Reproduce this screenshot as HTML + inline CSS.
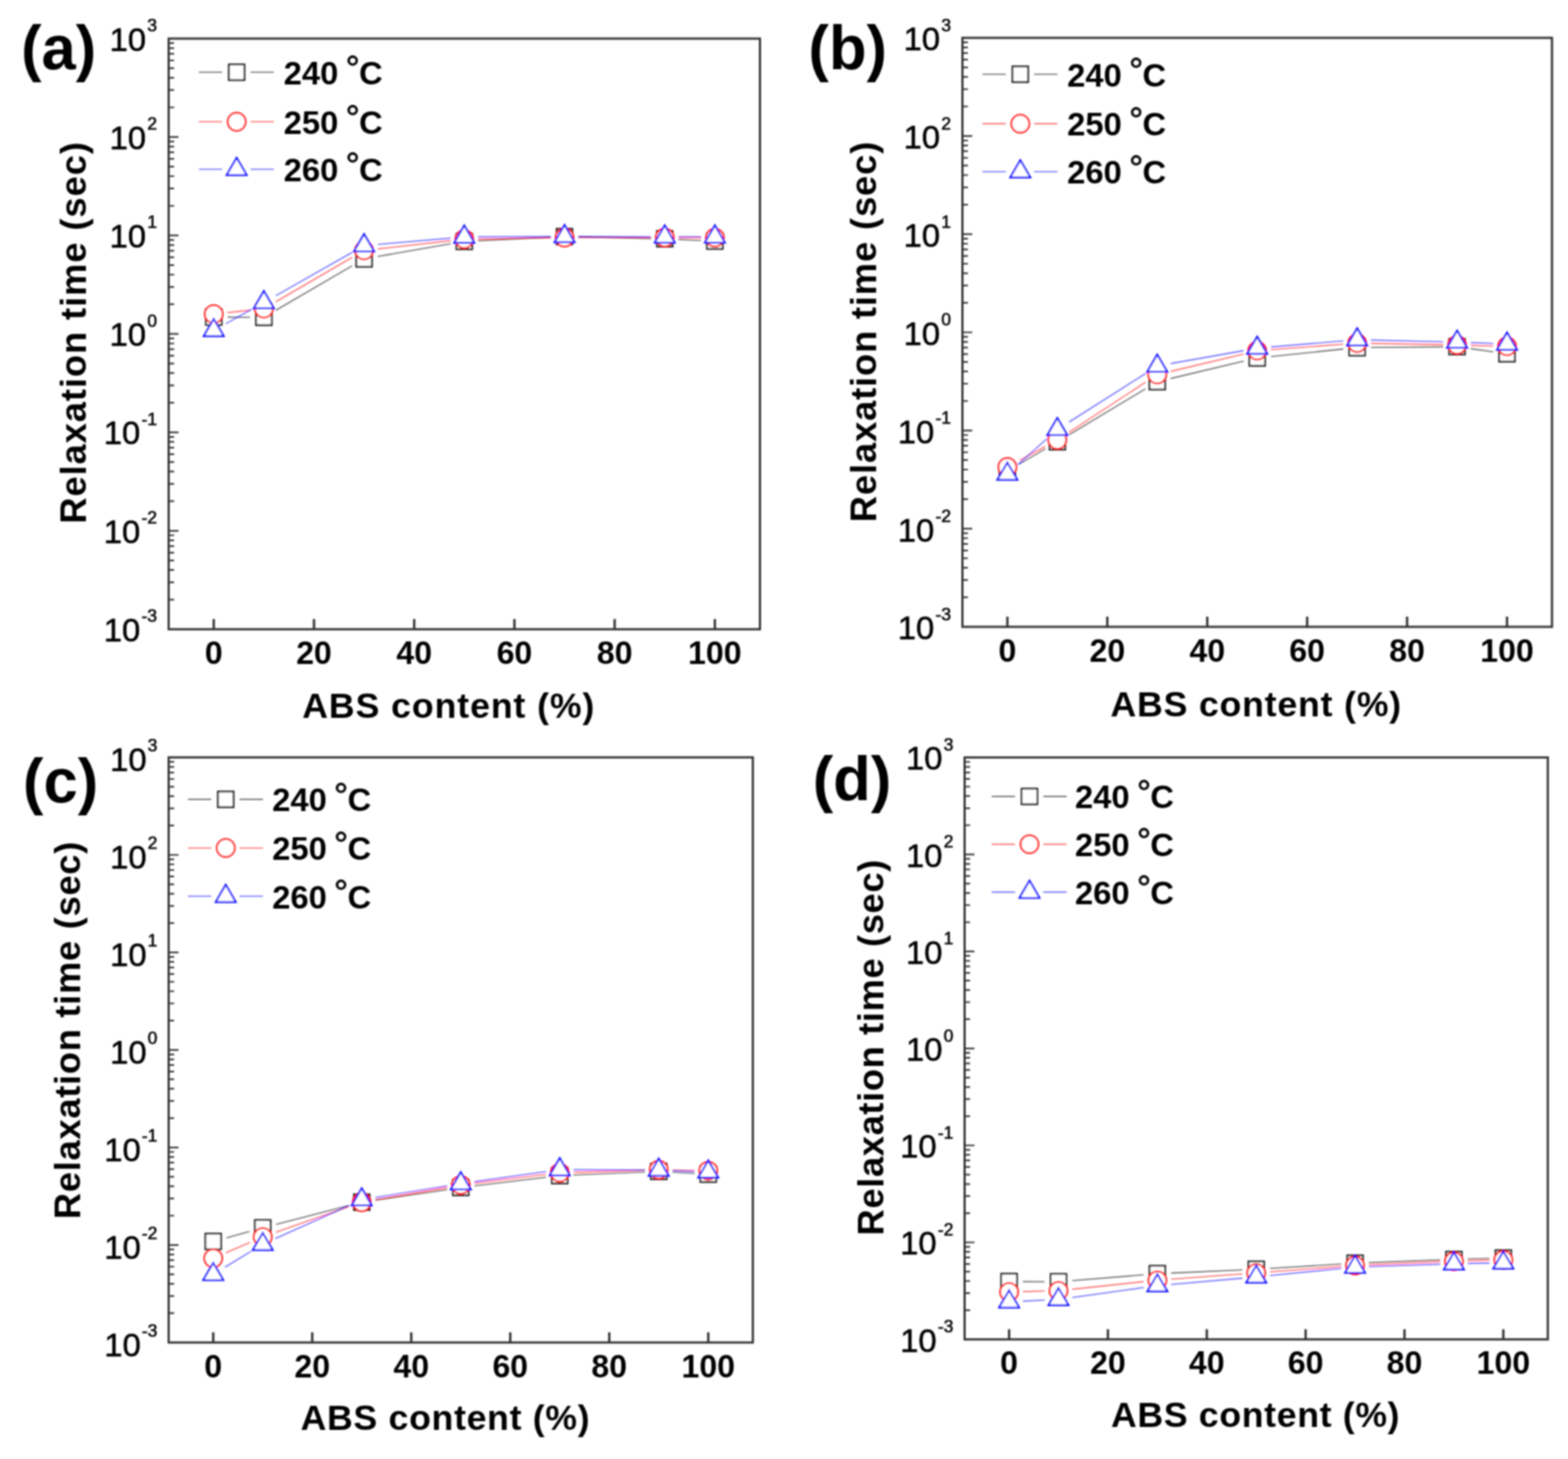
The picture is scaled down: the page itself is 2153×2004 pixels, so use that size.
<!DOCTYPE html>
<html><head><meta charset="utf-8"><title>Relaxation time vs ABS content</title><style>
html,body{margin:0;padding:0;background:#fff;}
svg{display:block;}
text{font-family:"Liberation Sans", Arial, sans-serif;fill:#000;}
</style></head><body>
<svg width="2153" height="2004" viewBox="0 0 2153 2004">
<defs><filter id="soft" x="0" y="0" width="2153" height="2004" filterUnits="userSpaceOnUse"><feGaussianBlur stdDeviation="0.8"/></filter></defs>
<rect width="2153" height="2004" fill="#fff"/>
<g filter="url(#soft)">
<g id="panel-a">
<path d="M231.60 823.60H239.10M231.60 799.79H239.10M231.60 782.89H239.10M231.60 769.79H239.10M231.60 759.08H239.10M231.60 750.03H239.10M231.60 742.19H239.10M231.60 735.27H239.10M231.60 729.08H245.10M231.60 688.38H239.10M231.60 664.57H239.10M231.60 647.67H239.10M231.60 634.57H239.10M231.60 623.86H239.10M231.60 614.81H239.10M231.60 606.97H239.10M231.60 600.05H239.10M231.60 593.87H245.10M231.60 553.16H239.10M231.60 529.35H239.10M231.60 512.46H239.10M231.60 499.35H239.10M231.60 488.65H239.10M231.60 479.60H239.10M231.60 471.75H239.10M231.60 464.84H239.10M231.60 458.65H245.10M231.60 417.95H239.10M231.60 394.14H239.10M231.60 377.24H239.10M231.60 364.14H239.10M231.60 353.43H239.10M231.60 344.38H239.10M231.60 336.54H239.10M231.60 329.62H239.10M231.60 323.43H245.10M231.60 282.73H239.10M231.60 258.92H239.10M231.60 242.02H239.10M231.60 228.92H239.10M231.60 218.21H239.10M231.60 209.16H239.10M231.60 201.32H239.10M231.60 194.40H239.10M231.60 188.22H245.10M231.60 147.51H239.10M231.60 123.70H239.10M231.60 106.81H239.10M231.60 93.70H239.10M231.60 83.00H239.10M231.60 73.95H239.10M231.60 66.10H239.10M231.60 59.19H239.10" stroke="#333" stroke-width="2.2" fill="none"/>
<path d="M293.52 864.30V850.30M431.13 864.30V850.30M568.74 864.30V850.30M706.36 864.30V850.30M843.97 864.30V850.30M981.58 864.30V850.30" stroke="#333" stroke-width="3.2" fill="none"/>
<rect x="231.60" y="53.00" width="811.90" height="811.30" fill="none" stroke="#333" stroke-width="3"/>
<text x="215.50" y="880.80" text-anchor="end" font-size="45" stroke="#000" stroke-width="0.7">10<tspan dx="1.6" dy="-26.5" font-size="24">-3</tspan></text>
<text x="215.50" y="745.58" text-anchor="end" font-size="45" stroke="#000" stroke-width="0.7">10<tspan dx="1.6" dy="-26.5" font-size="24">-2</tspan></text>
<text x="215.50" y="610.37" text-anchor="end" font-size="45" stroke="#000" stroke-width="0.7">10<tspan dx="1.6" dy="-26.5" font-size="24">-1</tspan></text>
<text x="215.50" y="475.15" text-anchor="end" font-size="45" stroke="#000" stroke-width="0.7">10<tspan dx="1.6" dy="-26.5" font-size="24">0</tspan></text>
<text x="215.50" y="339.93" text-anchor="end" font-size="45" stroke="#000" stroke-width="0.7">10<tspan dx="1.6" dy="-26.5" font-size="24">1</tspan></text>
<text x="215.50" y="204.72" text-anchor="end" font-size="45" stroke="#000" stroke-width="0.7">10<tspan dx="1.6" dy="-26.5" font-size="24">2</tspan></text>
<text x="215.50" y="69.50" text-anchor="end" font-size="45" stroke="#000" stroke-width="0.7">10<tspan dx="1.6" dy="-26.5" font-size="24">3</tspan></text>
<text x="293.52" y="911.70" text-anchor="middle" font-size="44" font-weight="bold">0</text>
<text x="431.13" y="911.70" text-anchor="middle" font-size="44" font-weight="bold">20</text>
<text x="568.74" y="911.70" text-anchor="middle" font-size="44" font-weight="bold">40</text>
<text x="706.36" y="911.70" text-anchor="middle" font-size="44" font-weight="bold">60</text>
<text x="843.97" y="911.70" text-anchor="middle" font-size="44" font-weight="bold">80</text>
<text x="981.58" y="911.70" text-anchor="middle" font-size="44" font-weight="bold">100</text>
<text x="615.60" y="986.40" text-anchor="middle" font-size="49" font-weight="bold" textLength="401.2" lengthAdjust="spacing">ABS content (%)</text>
<text transform="translate(118.00 457.25) rotate(-90)" text-anchor="middle" font-size="50" font-weight="bold" textLength="524.1" lengthAdjust="spacing">Relaxation time (sec)</text>
<text x="28.90" y="95.40" font-size="84.5" font-weight="bold">(a)</text>
<path d="M273.0 99.2H305.0M344.0 99.2H376.0" stroke="#000000" stroke-opacity="0.6" stroke-width="1.6"/>
<rect x="314.2" y="88.5" width="21.5" height="21.5" fill="#fff" stroke="#222222" stroke-width="2.5"/>
<text y="115.7" font-size="45" font-weight="bold"><tspan x="389.5">240</tspan><tspan x="474.4" dy="-5.6" font-size="49" font-weight="normal" stroke="#000" stroke-width="0.8">&#176;</tspan><tspan x="493.0" dy="5.6">C</tspan></text>
<path d="M273.0 167.3H305.0M344.0 167.3H376.0" stroke="#ff0000" stroke-opacity="0.6" stroke-width="1.6"/>
<circle cx="325.0" cy="167.3" r="12.2" fill="#fff" stroke="#ff1010" stroke-width="2.5"/>
<text y="183.8" font-size="45" font-weight="bold"><tspan x="389.5">250</tspan><tspan x="474.4" dy="-5.6" font-size="49" font-weight="normal" stroke="#000" stroke-width="0.8">&#176;</tspan><tspan x="493.0" dy="5.6">C</tspan></text>
<path d="M273.0 232.5H305.0M344.0 232.5H376.0" stroke="#0000ff" stroke-opacity="0.6" stroke-width="1.6"/>
<path d="M325.0 216.8L338.7 240.4H311.3Z" fill="#fff" stroke="#1010ff" stroke-width="2.5" stroke-linejoin="miter"/>
<text y="249.0" font-size="45" font-weight="bold"><tspan x="389.5">260</tspan><tspan x="474.4" dy="-5.6" font-size="49" font-weight="normal" stroke="#000" stroke-width="0.8">&#176;</tspan><tspan x="493.0" dy="5.6">C</tspan></text>
<path d="M312.5 435.6L343.3 435.8M378.7 426.3L483.5 365.1M518.7 352.2L618.8 334.8M656.5 330.6L756.2 325.9M794.2 325.4L893.8 327.6M931.7 328.9L962.6 330.3" stroke="#000000" stroke-opacity="0.6" stroke-width="1.6" fill="none"/>
<rect x="282.8" y="424.8" width="21.5" height="21.5" fill="#fff" stroke="#222222" stroke-width="2.5"/>
<rect x="351.6" y="425.1" width="21.5" height="21.5" fill="#fff" stroke="#222222" stroke-width="2.5"/>
<rect x="489.2" y="344.8" width="21.5" height="21.5" fill="#fff" stroke="#222222" stroke-width="2.5"/>
<rect x="626.8" y="320.8" width="21.5" height="21.5" fill="#fff" stroke="#222222" stroke-width="2.5"/>
<rect x="764.4" y="314.2" width="21.5" height="21.5" fill="#fff" stroke="#222222" stroke-width="2.5"/>
<rect x="902.0" y="317.2" width="21.5" height="21.5" fill="#fff" stroke="#222222" stroke-width="2.5"/>
<rect x="970.8" y="320.4" width="21.5" height="21.5" fill="#fff" stroke="#222222" stroke-width="2.5"/>
<path d="M312.4 429.4L343.4 426.1M378.8 414.5L483.5 353.5M518.8 341.9L618.7 330.6M656.5 328.2L756.2 326.6M794.2 326.3L893.8 326.2M931.8 326.3L962.6 326.4" stroke="#ff0000" stroke-opacity="0.6" stroke-width="1.6" fill="none"/>
<circle cx="293.5" cy="431.5" r="12.2" fill="#fff" stroke="#ff1010" stroke-width="2.5"/>
<circle cx="362.3" cy="424.0" r="12.2" fill="#fff" stroke="#ff1010" stroke-width="2.5"/>
<circle cx="499.9" cy="344.0" r="12.2" fill="#fff" stroke="#ff1010" stroke-width="2.5"/>
<circle cx="637.5" cy="328.5" r="12.2" fill="#fff" stroke="#ff1010" stroke-width="2.5"/>
<circle cx="775.2" cy="326.3" r="12.2" fill="#fff" stroke="#ff1010" stroke-width="2.5"/>
<circle cx="912.8" cy="326.2" r="12.2" fill="#fff" stroke="#ff1010" stroke-width="2.5"/>
<circle cx="981.6" cy="326.5" r="12.2" fill="#fff" stroke="#ff1010" stroke-width="2.5"/>
<path d="M310.1 444.6L345.7 424.7M378.8 406.1L483.4 346.7M518.9 335.7L618.6 327.1M656.5 325.4L756.2 324.9M794.2 324.9L893.8 325.2M931.8 325.3L962.6 325.3" stroke="#0000ff" stroke-opacity="0.6" stroke-width="1.6" fill="none"/>
<path d="M293.5 438.1L307.2 461.7H279.8Z" fill="#fff" stroke="#1010ff" stroke-width="2.5" stroke-linejoin="miter"/>
<path d="M362.3 399.8L376.0 423.4H348.6Z" fill="#fff" stroke="#1010ff" stroke-width="2.5" stroke-linejoin="miter"/>
<path d="M499.9 321.6L513.6 345.2H486.2Z" fill="#fff" stroke="#1010ff" stroke-width="2.5" stroke-linejoin="miter"/>
<path d="M637.5 309.8L651.2 333.4H623.8Z" fill="#fff" stroke="#1010ff" stroke-width="2.5" stroke-linejoin="miter"/>
<path d="M775.2 309.1L788.9 332.7H761.5Z" fill="#fff" stroke="#1010ff" stroke-width="2.5" stroke-linejoin="miter"/>
<path d="M912.8 309.6L926.5 333.2H899.1Z" fill="#fff" stroke="#1010ff" stroke-width="2.5" stroke-linejoin="miter"/>
<path d="M981.6 309.6L995.3 333.2H967.9Z" fill="#fff" stroke="#1010ff" stroke-width="2.5" stroke-linejoin="miter"/>
</g>
<g id="panel-b">
<path d="M1321.50 820.41H1329.00M1321.50 796.67H1329.00M1321.50 779.82H1329.00M1321.50 766.76H1329.00M1321.50 756.08H1329.00M1321.50 747.05H1329.00M1321.50 739.23H1329.00M1321.50 732.34H1329.00M1321.50 726.17H1335.00M1321.50 685.58H1329.00M1321.50 661.83H1329.00M1321.50 644.99H1329.00M1321.50 631.92H1329.00M1321.50 621.25H1329.00M1321.50 612.22H1329.00M1321.50 604.40H1329.00M1321.50 597.50H1329.00M1321.50 591.33H1335.00M1321.50 550.74H1329.00M1321.50 527.00H1329.00M1321.50 510.16H1329.00M1321.50 497.09H1329.00M1321.50 486.41H1329.00M1321.50 477.39H1329.00M1321.50 469.57H1329.00M1321.50 462.67H1329.00M1321.50 456.50H1335.00M1321.50 415.91H1329.00M1321.50 392.17H1329.00M1321.50 375.32H1329.00M1321.50 362.26H1329.00M1321.50 351.58H1329.00M1321.50 342.55H1329.00M1321.50 334.73H1329.00M1321.50 327.84H1329.00M1321.50 321.67H1335.00M1321.50 281.08H1329.00M1321.50 257.33H1329.00M1321.50 240.49H1329.00M1321.50 227.42H1329.00M1321.50 216.75H1329.00M1321.50 207.72H1329.00M1321.50 199.90H1329.00M1321.50 193.00H1329.00M1321.50 186.83H1335.00M1321.50 146.24H1329.00M1321.50 122.50H1329.00M1321.50 105.66H1329.00M1321.50 92.59H1329.00M1321.50 81.91H1329.00M1321.50 72.89H1329.00M1321.50 65.07H1329.00M1321.50 58.17H1329.00" stroke="#333" stroke-width="2.2" fill="none"/>
<path d="M1383.24 861.00V847.00M1520.44 861.00V847.00M1657.65 861.00V847.00M1794.85 861.00V847.00M1932.06 861.00V847.00M2069.26 861.00V847.00" stroke="#333" stroke-width="3.2" fill="none"/>
<rect x="1321.50" y="52.00" width="809.50" height="809.00" fill="none" stroke="#333" stroke-width="3"/>
<text x="1305.80" y="878.40" text-anchor="end" font-size="45" stroke="#000" stroke-width="0.7">10<tspan dx="1.6" dy="-26.5" font-size="24">-3</tspan></text>
<text x="1305.80" y="743.57" text-anchor="end" font-size="45" stroke="#000" stroke-width="0.7">10<tspan dx="1.6" dy="-26.5" font-size="24">-2</tspan></text>
<text x="1305.80" y="608.73" text-anchor="end" font-size="45" stroke="#000" stroke-width="0.7">10<tspan dx="1.6" dy="-26.5" font-size="24">-1</tspan></text>
<text x="1305.80" y="473.90" text-anchor="end" font-size="45" stroke="#000" stroke-width="0.7">10<tspan dx="1.6" dy="-26.5" font-size="24">0</tspan></text>
<text x="1305.80" y="339.07" text-anchor="end" font-size="45" stroke="#000" stroke-width="0.7">10<tspan dx="1.6" dy="-26.5" font-size="24">1</tspan></text>
<text x="1305.80" y="204.23" text-anchor="end" font-size="45" stroke="#000" stroke-width="0.7">10<tspan dx="1.6" dy="-26.5" font-size="24">2</tspan></text>
<text x="1305.80" y="69.40" text-anchor="end" font-size="45" stroke="#000" stroke-width="0.7">10<tspan dx="1.6" dy="-26.5" font-size="24">3</tspan></text>
<text x="1383.24" y="908.90" text-anchor="middle" font-size="44" font-weight="bold">0</text>
<text x="1520.44" y="908.90" text-anchor="middle" font-size="44" font-weight="bold">20</text>
<text x="1657.65" y="908.90" text-anchor="middle" font-size="44" font-weight="bold">40</text>
<text x="1794.85" y="908.90" text-anchor="middle" font-size="44" font-weight="bold">60</text>
<text x="1932.06" y="908.90" text-anchor="middle" font-size="44" font-weight="bold">80</text>
<text x="2069.26" y="908.90" text-anchor="middle" font-size="44" font-weight="bold">100</text>
<text x="1724.30" y="983.70" text-anchor="middle" font-size="49" font-weight="bold" textLength="399.2" lengthAdjust="spacing">ABS content (%)</text>
<text transform="translate(1203.00 455.95) rotate(-90)" text-anchor="middle" font-size="50" font-weight="bold" textLength="522.5" lengthAdjust="spacing">Relaxation time (sec)</text>
<text x="1110.10" y="95.20" font-size="84.5" font-weight="bold">(b)</text>
<path d="M1349.0 102.0H1381.0M1420.0 102.0H1452.0" stroke="#000000" stroke-opacity="0.6" stroke-width="1.6"/>
<rect x="1390.2" y="91.2" width="21.5" height="21.5" fill="#fff" stroke="#222222" stroke-width="2.5"/>
<text y="118.5" font-size="45" font-weight="bold"><tspan x="1465.3">240</tspan><tspan x="1550.2" dy="-5.6" font-size="49" font-weight="normal" stroke="#000" stroke-width="0.8">&#176;</tspan><tspan x="1568.8" dy="5.6">C</tspan></text>
<path d="M1349.0 169.9H1381.0M1420.0 169.9H1452.0" stroke="#ff0000" stroke-opacity="0.6" stroke-width="1.6"/>
<circle cx="1401.0" cy="169.9" r="12.2" fill="#fff" stroke="#ff1010" stroke-width="2.5"/>
<text y="186.4" font-size="45" font-weight="bold"><tspan x="1465.3">250</tspan><tspan x="1550.2" dy="-5.6" font-size="49" font-weight="normal" stroke="#000" stroke-width="0.8">&#176;</tspan><tspan x="1568.8" dy="5.6">C</tspan></text>
<path d="M1349.0 235.8H1381.0M1420.0 235.8H1452.0" stroke="#0000ff" stroke-opacity="0.6" stroke-width="1.6"/>
<path d="M1401.0 220.1L1414.7 243.7H1387.3Z" fill="#fff" stroke="#1010ff" stroke-width="2.5" stroke-linejoin="miter"/>
<text y="252.3" font-size="45" font-weight="bold"><tspan x="1465.3">260</tspan><tspan x="1550.2" dy="-5.6" font-size="49" font-weight="normal" stroke="#000" stroke-width="0.8">&#176;</tspan><tspan x="1568.8" dy="5.6">C</tspan></text>
<path d="M1399.6 637.4L1435.5 616.4M1468.1 597.0L1572.8 534.1M1607.5 519.9L1707.8 496.0M1745.2 489.7L1844.6 479.4M1882.5 477.3L1981.7 476.4M2019.5 478.9L2050.4 483.3" stroke="#000000" stroke-opacity="0.6" stroke-width="1.6" fill="none"/>
<rect x="1372.5" y="636.2" width="21.5" height="21.5" fill="#fff" stroke="#222222" stroke-width="2.5"/>
<rect x="1441.1" y="596.0" width="21.5" height="21.5" fill="#fff" stroke="#222222" stroke-width="2.5"/>
<rect x="1578.3" y="513.5" width="21.5" height="21.5" fill="#fff" stroke="#222222" stroke-width="2.5"/>
<rect x="1715.5" y="480.9" width="21.5" height="21.5" fill="#fff" stroke="#222222" stroke-width="2.5"/>
<rect x="1852.7" y="466.8" width="21.5" height="21.5" fill="#fff" stroke="#222222" stroke-width="2.5"/>
<rect x="1989.9" y="465.4" width="21.5" height="21.5" fill="#fff" stroke="#222222" stroke-width="2.5"/>
<rect x="2058.5" y="475.2" width="21.5" height="21.5" fill="#fff" stroke="#222222" stroke-width="2.5"/>
<path d="M1400.0 632.4L1435.1 613.3M1467.7 593.9L1573.1 524.9M1607.5 510.1L1707.8 486.2M1745.2 480.3L1844.5 472.7M1882.4 471.6L1981.7 473.4M2019.6 474.4L2050.3 475.2" stroke="#ff0000" stroke-opacity="0.6" stroke-width="1.6" fill="none"/>
<circle cx="1383.2" cy="641.4" r="12.2" fill="#fff" stroke="#ff1010" stroke-width="2.5"/>
<circle cx="1451.8" cy="604.3" r="12.2" fill="#fff" stroke="#ff1010" stroke-width="2.5"/>
<circle cx="1589.0" cy="514.5" r="12.2" fill="#fff" stroke="#ff1010" stroke-width="2.5"/>
<circle cx="1726.2" cy="481.8" r="12.2" fill="#fff" stroke="#ff1010" stroke-width="2.5"/>
<circle cx="1863.5" cy="471.2" r="12.2" fill="#fff" stroke="#ff1010" stroke-width="2.5"/>
<circle cx="2000.7" cy="473.8" r="12.2" fill="#fff" stroke="#ff1010" stroke-width="2.5"/>
<circle cx="2069.3" cy="475.8" r="12.2" fill="#fff" stroke="#ff1010" stroke-width="2.5"/>
<path d="M1397.4 638.4L1437.7 602.5M1467.9 579.7L1573.0 513.0M1607.7 499.4L1707.5 481.6M1745.2 476.6L1844.5 468.3M1882.4 467.1L1981.7 469.5M2019.6 470.6L2050.3 471.8" stroke="#0000ff" stroke-opacity="0.6" stroke-width="1.6" fill="none"/>
<path d="M1383.2 635.3L1396.9 658.9H1369.5Z" fill="#fff" stroke="#1010ff" stroke-width="2.5" stroke-linejoin="miter"/>
<path d="M1451.8 574.2L1465.5 597.8H1438.1Z" fill="#fff" stroke="#1010ff" stroke-width="2.5" stroke-linejoin="miter"/>
<path d="M1589.0 487.1L1602.7 510.7H1575.3Z" fill="#fff" stroke="#1010ff" stroke-width="2.5" stroke-linejoin="miter"/>
<path d="M1726.2 462.5L1740.0 486.1H1712.5Z" fill="#fff" stroke="#1010ff" stroke-width="2.5" stroke-linejoin="miter"/>
<path d="M1863.5 451.0L1877.2 474.6H1849.8Z" fill="#fff" stroke="#1010ff" stroke-width="2.5" stroke-linejoin="miter"/>
<path d="M2000.7 454.2L2014.4 477.8H1987.0Z" fill="#fff" stroke="#1010ff" stroke-width="2.5" stroke-linejoin="miter"/>
<path d="M2069.3 456.8L2083.0 480.4H2055.6Z" fill="#fff" stroke="#1010ff" stroke-width="2.5" stroke-linejoin="miter"/>
</g>
<g id="panel-c">
<path d="M231.60 1803.68H239.10M231.60 1780.09H239.10M231.60 1763.35H239.10M231.60 1750.37H239.10M231.60 1739.77H239.10M231.60 1730.80H239.10M231.60 1723.03H239.10M231.60 1716.18H239.10M231.60 1710.05H245.10M231.60 1669.73H239.10M231.60 1646.14H239.10M231.60 1629.40H239.10M231.60 1616.42H239.10M231.60 1605.82H239.10M231.60 1596.85H239.10M231.60 1589.08H239.10M231.60 1582.23H239.10M231.60 1576.10H245.10M231.60 1535.78H239.10M231.60 1512.19H239.10M231.60 1495.45H239.10M231.60 1482.47H239.10M231.60 1471.87H239.10M231.60 1462.90H239.10M231.60 1455.13H239.10M231.60 1448.28H239.10M231.60 1442.15H245.10M231.60 1401.83H239.10M231.60 1378.24H239.10M231.60 1361.50H239.10M231.60 1348.52H239.10M231.60 1337.92H239.10M231.60 1328.95H239.10M231.60 1321.18H239.10M231.60 1314.33H239.10M231.60 1308.20H245.10M231.60 1267.88H239.10M231.60 1244.29H239.10M231.60 1227.55H239.10M231.60 1214.57H239.10M231.60 1203.97H239.10M231.60 1195.00H239.10M231.60 1187.23H239.10M231.60 1180.38H239.10M231.60 1174.25H245.10M231.60 1133.93H239.10M231.60 1110.34H239.10M231.60 1093.60H239.10M231.60 1080.62H239.10M231.60 1070.02H239.10M231.60 1061.05H239.10M231.60 1053.28H239.10M231.60 1046.43H239.10" stroke="#333" stroke-width="2.2" fill="none"/>
<path d="M292.78 1844.00V1830.00M428.73 1844.00V1830.00M564.68 1844.00V1830.00M700.62 1844.00V1830.00M836.57 1844.00V1830.00M972.52 1844.00V1830.00" stroke="#333" stroke-width="3.2" fill="none"/>
<rect x="231.60" y="1040.30" width="802.10" height="803.70" fill="none" stroke="#333" stroke-width="3"/>
<text x="216.20" y="1862.60" text-anchor="end" font-size="45" stroke="#000" stroke-width="0.7">10<tspan dx="1.6" dy="-26.5" font-size="24">-3</tspan></text>
<text x="216.20" y="1728.65" text-anchor="end" font-size="45" stroke="#000" stroke-width="0.7">10<tspan dx="1.6" dy="-26.5" font-size="24">-2</tspan></text>
<text x="216.20" y="1594.70" text-anchor="end" font-size="45" stroke="#000" stroke-width="0.7">10<tspan dx="1.6" dy="-26.5" font-size="24">-1</tspan></text>
<text x="216.20" y="1460.75" text-anchor="end" font-size="45" stroke="#000" stroke-width="0.7">10<tspan dx="1.6" dy="-26.5" font-size="24">0</tspan></text>
<text x="216.20" y="1326.80" text-anchor="end" font-size="45" stroke="#000" stroke-width="0.7">10<tspan dx="1.6" dy="-26.5" font-size="24">1</tspan></text>
<text x="216.20" y="1192.85" text-anchor="end" font-size="45" stroke="#000" stroke-width="0.7">10<tspan dx="1.6" dy="-26.5" font-size="24">2</tspan></text>
<text x="216.20" y="1058.90" text-anchor="end" font-size="45" stroke="#000" stroke-width="0.7">10<tspan dx="1.6" dy="-26.5" font-size="24">3</tspan></text>
<text x="292.78" y="1891.90" text-anchor="middle" font-size="44" font-weight="bold">0</text>
<text x="428.73" y="1891.90" text-anchor="middle" font-size="44" font-weight="bold">20</text>
<text x="564.68" y="1891.90" text-anchor="middle" font-size="44" font-weight="bold">40</text>
<text x="700.62" y="1891.90" text-anchor="middle" font-size="44" font-weight="bold">60</text>
<text x="836.57" y="1891.90" text-anchor="middle" font-size="44" font-weight="bold">80</text>
<text x="972.52" y="1891.90" text-anchor="middle" font-size="44" font-weight="bold">100</text>
<text x="611.15" y="1964.20" text-anchor="middle" font-size="49" font-weight="bold" textLength="396.9" lengthAdjust="spacing">ABS content (%)</text>
<text transform="translate(110.20 1415.30) rotate(-90)" text-anchor="middle" font-size="50" font-weight="bold" textLength="518.6" lengthAdjust="spacing">Relaxation time (sec)</text>
<text x="31.50" y="1102.40" font-size="84.5" font-weight="bold">(c)</text>
<path d="M258.0 1097.9H290.0M329.0 1097.9H361.0" stroke="#000000" stroke-opacity="0.6" stroke-width="1.6"/>
<rect x="299.2" y="1087.2" width="21.5" height="21.5" fill="#fff" stroke="#222222" stroke-width="2.5"/>
<text y="1114.4" font-size="45" font-weight="bold"><tspan x="373.7">240</tspan><tspan x="458.6" dy="-5.6" font-size="49" font-weight="normal" stroke="#000" stroke-width="0.8">&#176;</tspan><tspan x="477.2" dy="5.6">C</tspan></text>
<path d="M258.0 1164.8H290.0M329.0 1164.8H361.0" stroke="#ff0000" stroke-opacity="0.6" stroke-width="1.6"/>
<circle cx="310.0" cy="1164.8" r="12.2" fill="#fff" stroke="#ff1010" stroke-width="2.5"/>
<text y="1181.3" font-size="45" font-weight="bold"><tspan x="373.7">250</tspan><tspan x="458.6" dy="-5.6" font-size="49" font-weight="normal" stroke="#000" stroke-width="0.8">&#176;</tspan><tspan x="477.2" dy="5.6">C</tspan></text>
<path d="M258.0 1231.0H290.0M329.0 1231.0H361.0" stroke="#0000ff" stroke-opacity="0.6" stroke-width="1.6"/>
<path d="M310.0 1215.3L323.7 1238.9H296.3Z" fill="#fff" stroke="#1010ff" stroke-width="2.5" stroke-linejoin="miter"/>
<text y="1247.5" font-size="45" font-weight="bold"><tspan x="373.7">260</tspan><tspan x="458.6" dy="-5.6" font-size="49" font-weight="normal" stroke="#000" stroke-width="0.8">&#176;</tspan><tspan x="477.2" dy="5.6">C</tspan></text>
<path d="M311.1 1700.2L342.4 1691.6M379.1 1681.8L478.3 1656.1M515.5 1648.5L613.9 1633.9M651.5 1628.8L749.7 1617.0M787.6 1613.9L885.6 1609.8M923.5 1610.0L953.6 1611.7" stroke="#000000" stroke-opacity="0.6" stroke-width="1.6" fill="none"/>
<rect x="282.0" y="1694.5" width="21.5" height="21.5" fill="#fff" stroke="#222222" stroke-width="2.5"/>
<rect x="350.0" y="1675.8" width="21.5" height="21.5" fill="#fff" stroke="#222222" stroke-width="2.5"/>
<rect x="486.0" y="1640.5" width="21.5" height="21.5" fill="#fff" stroke="#222222" stroke-width="2.5"/>
<rect x="621.9" y="1620.3" width="21.5" height="21.5" fill="#fff" stroke="#222222" stroke-width="2.5"/>
<rect x="757.8" y="1604.0" width="21.5" height="21.5" fill="#fff" stroke="#222222" stroke-width="2.5"/>
<rect x="893.8" y="1598.2" width="21.5" height="21.5" fill="#fff" stroke="#222222" stroke-width="2.5"/>
<rect x="961.8" y="1602.0" width="21.5" height="21.5" fill="#fff" stroke="#222222" stroke-width="2.5"/>
<path d="M310.2 1720.8L343.3 1706.4M378.7 1692.6L478.8 1657.6M515.4 1648.0L613.9 1630.9M651.5 1625.3L749.7 1613.0M787.6 1610.2L885.6 1607.3M923.5 1607.2L953.5 1607.7" stroke="#ff0000" stroke-opacity="0.6" stroke-width="1.6" fill="none"/>
<circle cx="292.8" cy="1728.3" r="12.2" fill="#fff" stroke="#ff1010" stroke-width="2.5"/>
<circle cx="360.8" cy="1698.9" r="12.2" fill="#fff" stroke="#ff1010" stroke-width="2.5"/>
<circle cx="496.7" cy="1651.3" r="12.2" fill="#fff" stroke="#ff1010" stroke-width="2.5"/>
<circle cx="632.7" cy="1627.6" r="12.2" fill="#fff" stroke="#ff1010" stroke-width="2.5"/>
<circle cx="768.6" cy="1610.7" r="12.2" fill="#fff" stroke="#ff1010" stroke-width="2.5"/>
<circle cx="904.5" cy="1606.8" r="12.2" fill="#fff" stroke="#ff1010" stroke-width="2.5"/>
<circle cx="972.5" cy="1608.1" r="12.2" fill="#fff" stroke="#ff1010" stroke-width="2.5"/>
<path d="M309.0 1740.5L344.5 1718.9M378.1 1701.3L479.4 1655.7M515.5 1644.9L613.9 1628.8M651.5 1623.1L749.8 1609.2M787.6 1606.6L885.5 1607.0M923.5 1607.8L953.5 1609.0" stroke="#0000ff" stroke-opacity="0.6" stroke-width="1.6" fill="none"/>
<path d="M292.8 1734.6L306.5 1758.2H279.1Z" fill="#fff" stroke="#1010ff" stroke-width="2.5" stroke-linejoin="miter"/>
<path d="M360.8 1693.4L374.5 1717.0H347.1Z" fill="#fff" stroke="#1010ff" stroke-width="2.5" stroke-linejoin="miter"/>
<path d="M496.7 1632.2L510.4 1655.8H483.0Z" fill="#fff" stroke="#1010ff" stroke-width="2.5" stroke-linejoin="miter"/>
<path d="M632.7 1610.1L646.4 1633.7H619.0Z" fill="#fff" stroke="#1010ff" stroke-width="2.5" stroke-linejoin="miter"/>
<path d="M768.6 1590.8L782.3 1614.4H754.9Z" fill="#fff" stroke="#1010ff" stroke-width="2.5" stroke-linejoin="miter"/>
<path d="M904.5 1591.4L918.2 1615.0H890.8Z" fill="#fff" stroke="#1010ff" stroke-width="2.5" stroke-linejoin="miter"/>
<path d="M972.5 1594.0L986.2 1617.6H958.8Z" fill="#fff" stroke="#1010ff" stroke-width="2.5" stroke-linejoin="miter"/>
</g>
<g id="panel-d">
<path d="M1324.50 1799.60H1332.00M1324.50 1776.14H1332.00M1324.50 1759.50H1332.00M1324.50 1746.59H1332.00M1324.50 1736.04H1332.00M1324.50 1727.12H1332.00M1324.50 1719.39H1332.00M1324.50 1712.58H1332.00M1324.50 1706.48H1338.00M1324.50 1666.38H1332.00M1324.50 1642.92H1332.00M1324.50 1626.28H1332.00M1324.50 1613.37H1332.00M1324.50 1602.82H1332.00M1324.50 1593.90H1332.00M1324.50 1586.18H1332.00M1324.50 1579.36H1332.00M1324.50 1573.27H1338.00M1324.50 1533.16H1332.00M1324.50 1509.71H1332.00M1324.50 1493.06H1332.00M1324.50 1480.15H1332.00M1324.50 1469.60H1332.00M1324.50 1460.69H1332.00M1324.50 1452.96H1332.00M1324.50 1446.15H1332.00M1324.50 1440.05H1338.00M1324.50 1399.95H1332.00M1324.50 1376.49H1332.00M1324.50 1359.85H1332.00M1324.50 1346.94H1332.00M1324.50 1336.39H1332.00M1324.50 1327.47H1332.00M1324.50 1319.74H1332.00M1324.50 1312.93H1332.00M1324.50 1306.83H1338.00M1324.50 1266.73H1332.00M1324.50 1243.27H1332.00M1324.50 1226.63H1332.00M1324.50 1213.72H1332.00M1324.50 1203.17H1332.00M1324.50 1194.25H1332.00M1324.50 1186.53H1332.00M1324.50 1179.71H1332.00M1324.50 1173.62H1338.00M1324.50 1133.51H1332.00M1324.50 1110.06H1332.00M1324.50 1093.41H1332.00M1324.50 1080.50H1332.00M1324.50 1069.95H1332.00M1324.50 1061.04H1332.00M1324.50 1053.31H1332.00M1324.50 1046.50H1332.00" stroke="#333" stroke-width="2.2" fill="none"/>
<path d="M1385.58 1839.70V1825.70M1521.31 1839.70V1825.70M1657.04 1839.70V1825.70M1792.76 1839.70V1825.70M1928.49 1839.70V1825.70M2064.22 1839.70V1825.70" stroke="#333" stroke-width="3.2" fill="none"/>
<rect x="1324.50" y="1040.40" width="800.80" height="799.30" fill="none" stroke="#333" stroke-width="3"/>
<text x="1309.00" y="1856.70" text-anchor="end" font-size="45" stroke="#000" stroke-width="0.7">10<tspan dx="1.6" dy="-26.5" font-size="24">-3</tspan></text>
<text x="1309.00" y="1723.48" text-anchor="end" font-size="45" stroke="#000" stroke-width="0.7">10<tspan dx="1.6" dy="-26.5" font-size="24">-2</tspan></text>
<text x="1309.00" y="1590.27" text-anchor="end" font-size="45" stroke="#000" stroke-width="0.7">10<tspan dx="1.6" dy="-26.5" font-size="24">-1</tspan></text>
<text x="1309.00" y="1457.05" text-anchor="end" font-size="45" stroke="#000" stroke-width="0.7">10<tspan dx="1.6" dy="-26.5" font-size="24">0</tspan></text>
<text x="1309.00" y="1323.83" text-anchor="end" font-size="45" stroke="#000" stroke-width="0.7">10<tspan dx="1.6" dy="-26.5" font-size="24">1</tspan></text>
<text x="1309.00" y="1190.62" text-anchor="end" font-size="45" stroke="#000" stroke-width="0.7">10<tspan dx="1.6" dy="-26.5" font-size="24">2</tspan></text>
<text x="1309.00" y="1057.40" text-anchor="end" font-size="45" stroke="#000" stroke-width="0.7">10<tspan dx="1.6" dy="-26.5" font-size="24">3</tspan></text>
<text x="1385.58" y="1886.70" text-anchor="middle" font-size="44" font-weight="bold">0</text>
<text x="1521.31" y="1886.70" text-anchor="middle" font-size="44" font-weight="bold">20</text>
<text x="1657.04" y="1886.70" text-anchor="middle" font-size="44" font-weight="bold">40</text>
<text x="1792.76" y="1886.70" text-anchor="middle" font-size="44" font-weight="bold">60</text>
<text x="1928.49" y="1886.70" text-anchor="middle" font-size="44" font-weight="bold">80</text>
<text x="2064.22" y="1886.70" text-anchor="middle" font-size="44" font-weight="bold">100</text>
<text x="1723.55" y="1959.80" text-anchor="middle" font-size="49" font-weight="bold" textLength="396.3" lengthAdjust="spacing">ABS content (%)</text>
<text transform="translate(1213.00 1438.90) rotate(-90)" text-anchor="middle" font-size="50" font-weight="bold" textLength="516.2" lengthAdjust="spacing">Relaxation time (sec)</text>
<text x="1115.90" y="1099.30" font-size="84.5" font-weight="bold">(d)</text>
<path d="M1361.6 1093.9H1393.6M1432.6 1093.9H1464.6" stroke="#000000" stroke-opacity="0.6" stroke-width="1.6"/>
<rect x="1402.8" y="1083.2" width="21.5" height="21.5" fill="#fff" stroke="#222222" stroke-width="2.5"/>
<text y="1110.4" font-size="45" font-weight="bold"><tspan x="1476.0">240</tspan><tspan x="1560.9" dy="-5.6" font-size="49" font-weight="normal" stroke="#000" stroke-width="0.8">&#176;</tspan><tspan x="1579.5" dy="5.6">C</tspan></text>
<path d="M1361.6 1159.6H1393.6M1432.6 1159.6H1464.6" stroke="#ff0000" stroke-opacity="0.6" stroke-width="1.6"/>
<circle cx="1413.6" cy="1159.6" r="12.2" fill="#fff" stroke="#ff1010" stroke-width="2.5"/>
<text y="1176.1" font-size="45" font-weight="bold"><tspan x="1476.0">250</tspan><tspan x="1560.9" dy="-5.6" font-size="49" font-weight="normal" stroke="#000" stroke-width="0.8">&#176;</tspan><tspan x="1579.5" dy="5.6">C</tspan></text>
<path d="M1361.6 1225.4H1393.6M1432.6 1225.4H1464.6" stroke="#0000ff" stroke-opacity="0.6" stroke-width="1.6"/>
<path d="M1413.6 1209.7L1427.3 1233.3H1399.9Z" fill="#fff" stroke="#1010ff" stroke-width="2.5" stroke-linejoin="miter"/>
<text y="1241.9" font-size="45" font-weight="bold"><tspan x="1476.0">260</tspan><tspan x="1560.9" dy="-5.6" font-size="49" font-weight="normal" stroke="#000" stroke-width="0.8">&#176;</tspan><tspan x="1579.5" dy="5.6">C</tspan></text>
<path d="M1404.6 1760.4L1434.4 1760.5M1472.4 1759.0L1570.2 1751.0M1608.2 1748.6L1705.9 1744.2M1743.9 1742.2L1841.7 1736.3M1879.6 1734.4L1977.4 1730.6M2015.3 1729.3L2045.2 1728.5" stroke="#000000" stroke-opacity="0.6" stroke-width="1.6" fill="none"/>
<rect x="1374.8" y="1749.5" width="21.5" height="21.5" fill="#fff" stroke="#222222" stroke-width="2.5"/>
<rect x="1442.7" y="1749.8" width="21.5" height="21.5" fill="#fff" stroke="#222222" stroke-width="2.5"/>
<rect x="1578.4" y="1738.7" width="21.5" height="21.5" fill="#fff" stroke="#222222" stroke-width="2.5"/>
<rect x="1714.2" y="1732.7" width="21.5" height="21.5" fill="#fff" stroke="#222222" stroke-width="2.5"/>
<rect x="1849.9" y="1724.3" width="21.5" height="21.5" fill="#fff" stroke="#222222" stroke-width="2.5"/>
<rect x="1985.6" y="1719.2" width="21.5" height="21.5" fill="#fff" stroke="#222222" stroke-width="2.5"/>
<rect x="2053.5" y="1717.2" width="21.5" height="21.5" fill="#fff" stroke="#222222" stroke-width="2.5"/>
<path d="M1404.6 1774.1L1434.4 1773.3M1472.3 1770.9L1570.3 1760.4M1608.1 1757.0L1706.0 1749.8M1743.8 1747.0L1841.7 1739.7M1879.6 1737.5L1977.4 1733.2M2015.3 1731.8L2045.2 1731.0" stroke="#ff0000" stroke-opacity="0.6" stroke-width="1.6" fill="none"/>
<circle cx="1385.6" cy="1774.5" r="12.2" fill="#fff" stroke="#ff1010" stroke-width="2.5"/>
<circle cx="1453.4" cy="1772.9" r="12.2" fill="#fff" stroke="#ff1010" stroke-width="2.5"/>
<circle cx="1589.2" cy="1758.4" r="12.2" fill="#fff" stroke="#ff1010" stroke-width="2.5"/>
<circle cx="1724.9" cy="1748.4" r="12.2" fill="#fff" stroke="#ff1010" stroke-width="2.5"/>
<circle cx="1860.6" cy="1738.3" r="12.2" fill="#fff" stroke="#ff1010" stroke-width="2.5"/>
<circle cx="1996.4" cy="1732.4" r="12.2" fill="#fff" stroke="#ff1010" stroke-width="2.5"/>
<circle cx="2064.2" cy="1730.4" r="12.2" fill="#fff" stroke="#ff1010" stroke-width="2.5"/>
<path d="M1404.6 1787.1L1434.5 1785.7M1472.3 1782.2L1570.4 1768.5M1608.1 1764.2L1706.0 1755.6M1743.8 1752.0L1841.7 1742.3M1879.6 1739.8L1977.4 1736.4M2015.4 1735.4L2045.2 1734.9" stroke="#0000ff" stroke-opacity="0.6" stroke-width="1.6" fill="none"/>
<path d="M1385.6 1772.3L1399.3 1795.9H1371.9Z" fill="#fff" stroke="#1010ff" stroke-width="2.5" stroke-linejoin="miter"/>
<path d="M1453.4 1769.1L1467.1 1792.7H1439.7Z" fill="#fff" stroke="#1010ff" stroke-width="2.5" stroke-linejoin="miter"/>
<path d="M1589.2 1750.2L1602.9 1773.8H1575.5Z" fill="#fff" stroke="#1010ff" stroke-width="2.5" stroke-linejoin="miter"/>
<path d="M1724.9 1738.2L1738.6 1761.8H1711.2Z" fill="#fff" stroke="#1010ff" stroke-width="2.5" stroke-linejoin="miter"/>
<path d="M1860.6 1724.7L1874.3 1748.3H1846.9Z" fill="#fff" stroke="#1010ff" stroke-width="2.5" stroke-linejoin="miter"/>
<path d="M1996.4 1720.1L2010.1 1743.7H1982.7Z" fill="#fff" stroke="#1010ff" stroke-width="2.5" stroke-linejoin="miter"/>
<path d="M2064.2 1718.8L2077.9 1742.4H2050.5Z" fill="#fff" stroke="#1010ff" stroke-width="2.5" stroke-linejoin="miter"/>
</g>
</g>
</svg></body></html>
